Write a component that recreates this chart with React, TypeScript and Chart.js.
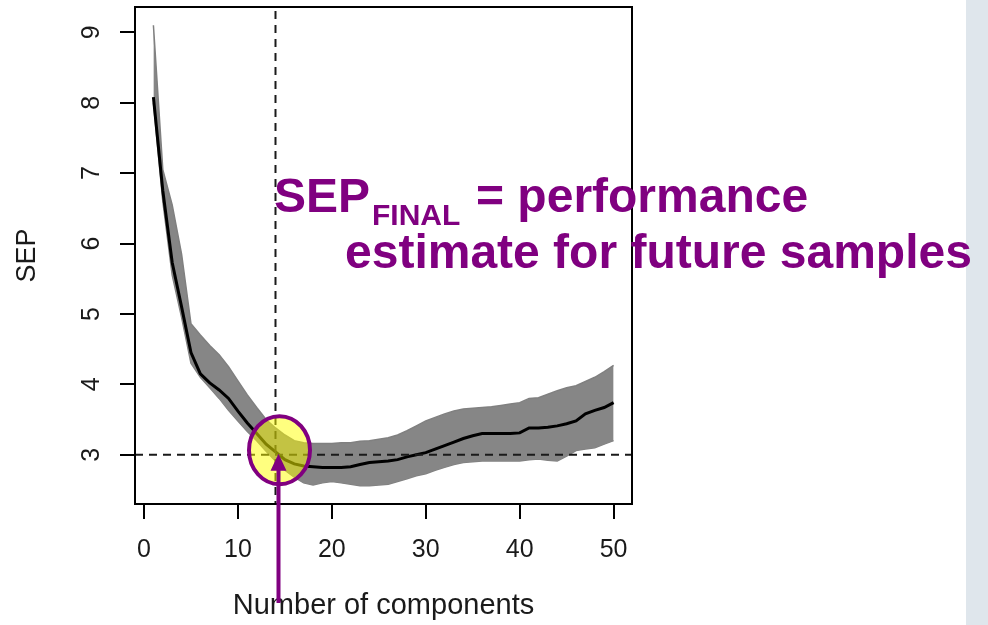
import React, { useEffect, useRef } from "react";
import { Chart, registerables } from "chart.js";

Chart.register(...registerables);

// ---- data ----
const COMPONENTS = [
  1, 2, 3, 4, 5, 6, 7, 8, 9, 10, 11, 12, 13, 14, 15, 16, 17, 18, 19, 20, 21, 22, 23, 24, 25,
  26, 27, 28, 29, 30, 31, 32, 33, 34, 35, 36, 37, 38, 39, 40, 41, 42, 43, 44, 45, 46, 47, 48, 49, 50,
];
// mean SEP curve (black)
const SEP_MEAN = [
  8.08, 6.75, 5.73, 5.1, 4.45, 4.15, 4.02, 3.92, 3.8, 3.62, 3.45, 3.3, 3.15, 3.04, 2.93, 2.87, 2.84, 2.83, 2.82, 2.82,
  2.82, 2.83, 2.86, 2.89, 2.9, 2.91, 2.93, 2.97, 3.0, 3.03, 3.08, 3.13, 3.18, 3.23, 3.27, 3.3, 3.3, 3.3, 3.3, 3.31,
  3.38, 3.38, 3.39, 3.41, 3.44, 3.48, 3.58, 3.63, 3.67, 3.74,
];
// envelope of the repeated runs (gray)
const SEP_UPPER = [
  9.1, 7.05, 6.55, 5.85, 4.86, 4.7, 4.55, 4.42, 4.25, 4.05, 3.85, 3.67, 3.5, 3.38, 3.28, 3.2, 3.17, 3.16, 3.16, 3.16,
  3.17, 3.17, 3.19, 3.2, 3.22, 3.24, 3.28, 3.34, 3.41, 3.48, 3.53, 3.58, 3.62, 3.65, 3.66, 3.67, 3.68, 3.7, 3.72, 3.74,
  3.8, 3.81, 3.86, 3.91, 3.95, 3.98, 4.04, 4.1, 4.18, 4.27,
];
const SEP_LOWER = [
  8.0, 6.6, 5.55, 4.95, 4.3, 4.1, 3.95, 3.8, 3.63, 3.48, 3.33, 3.2, 3.05, 2.91, 2.78, 2.68, 2.6, 2.57, 2.6, 2.62,
  2.6, 2.58, 2.56, 2.56, 2.57, 2.58, 2.62, 2.66, 2.7, 2.73, 2.78, 2.82, 2.86, 2.89, 2.9, 2.91, 2.91, 2.91, 2.91, 2.91,
  2.93, 2.94, 2.92, 2.91, 2.98, 3.06, 3.08, 3.1, 3.15, 3.2,
];
const X_TICKS = [0, 10, 20, 30, 40, 50];
const Y_TICKS = [3, 4, 5, 6, 7, 8, 9];
const X_RANGE = [-0.96, 51.96];
const Y_RANGE = [2.3, 9.36];
const SELECTED_K = 14;
const SEP_FINAL = 3.0;
const X_TITLE = "Number of components";
const Y_TITLE = "SEP";
const NOTE_MAIN = "SEP";
const NOTE_SUB = "FINAL";
const NOTE_LINE1 = "= performance";
const NOTE_LINE2 = "estimate for future samples";

const PURPLE = "#800080";
const FONT = "'Liberation Sans', Arial, Helvetica, sans-serif";

const pts = (ys: number[]) => COMPONENTS.map((x, i) => ({ x, y: ys[i] }));

const annotPlugin = {
  id: "annot",
  afterDatasetsDraw(chart: any) {
    const { ctx, chartArea, scales } = chart;
    const px = scales.x.getPixelForValue(SELECTED_K);
    const py = scales.y.getPixelForValue(SEP_FINAL);
    ctx.save();
    ctx.strokeStyle = "#1a1a1a";
    ctx.lineWidth = 2;
    ctx.setLineDash([8, 6]);
    ctx.beginPath();
    ctx.moveTo(px, chartArea.top + 4);
    ctx.lineTo(px, chartArea.bottom);
    ctx.moveTo(chartArea.left, py);
    ctx.lineTo(chartArea.right, py);
    ctx.stroke();
    ctx.restore();
  },
  afterDraw(chart: any) {
    const { ctx, chartArea, scales } = chart;
    const px = scales.x.getPixelForValue(SELECTED_K);
    const py = scales.y.getPixelForValue(SEP_FINAL);
    ctx.save();
    // box
    ctx.strokeStyle = "#000";
    ctx.lineWidth = 2;
    ctx.setLineDash([]);
    ctx.strokeRect(chartArea.left, chartArea.top, chartArea.right - chartArea.left, chartArea.bottom - chartArea.top);

    // highlight ellipse
    ctx.beginPath();
    ctx.ellipse(px + 4, py - 4.5, 30.5, 34, 0, 0, Math.PI * 2);
    ctx.fillStyle = "rgba(255,255,0,0.5)";
    ctx.fill();
    ctx.lineWidth = 4;
    ctx.strokeStyle = PURPLE;
    ctx.stroke();

    // arrow
    const ax = px + 3;
    ctx.beginPath();
    ctx.moveTo(ax, 603);
    ctx.lineTo(ax, py + 12);
    ctx.lineWidth = 4;
    ctx.stroke();
    ctx.beginPath();
    ctx.moveTo(ax, py - 1);
    ctx.lineTo(ax - 8, py + 16);
    ctx.lineTo(ax + 8, py + 16);
    ctx.closePath();
    ctx.fillStyle = PURPLE;
    ctx.fill();

    // note text
    ctx.fillStyle = PURPLE;
    ctx.textBaseline = "alphabetic";
    ctx.textAlign = "left";
    ctx.font = `bold 48px ${FONT}`;
    ctx.fillText(NOTE_MAIN, 274, 212);
    const w = ctx.measureText(NOTE_MAIN).width;
    ctx.font = `bold 30px ${FONT}`;
    ctx.fillText(NOTE_SUB, 274 + w + 2, 225);
    ctx.font = `bold 48px ${FONT}`;
    ctx.fillText(NOTE_LINE1, 476, 212);
    ctx.fillText(NOTE_LINE2, 345, 268);
    ctx.restore();
  },
};

export default function App() {
  const ref = useRef<HTMLCanvasElement | null>(null);
  useEffect(() => {
    if (!ref.current) return;
    const tickFont = { family: FONT, size: 25 };
    const chart = new Chart(ref.current, {
      type: "line",
      data: {
        datasets: [
          {
            data: pts(SEP_MEAN),
            borderColor: "#000",
            borderWidth: 3,
            pointRadius: 0,
            fill: false,
            tension: 0,
          },
          {
            data: pts(SEP_UPPER),
            borderColor: "#808080",
            borderWidth: 1.5,
            backgroundColor: "#868686",
            pointRadius: 0,
            fill: "+1",
            tension: 0,
          },
          {
            data: pts(SEP_LOWER),
            borderColor: "#808080",
            borderWidth: 1.5,
            pointRadius: 0,
            fill: false,
            tension: 0,
          },
        ],
      },
      options: {
        animation: false,
        responsive: true,
        maintainAspectRatio: false,
        layout: { padding: { top: 7, right: 356, left: 0, bottom: 0 } },
        plugins: { legend: { display: false }, tooltip: { enabled: false } },
        scales: {
          x: {
            type: "linear",
            min: X_RANGE[0],
            max: X_RANGE[1],
            afterBuildTicks: (s: any) => {
              s.ticks = X_TICKS.map((v) => ({ value: v }));
            },
            afterFit: (s: any) => {
              s.height = 121;
              s.paddingLeft = 0;
              s.paddingRight = 0;
            },
            border: { display: false },
            grid: {
              drawOnChartArea: false,
              drawTicks: true,
              tickLength: 15,
              color: "#000",
              lineWidth: 2,
            },
            ticks: { font: tickFont, color: "#1a1a1a", padding: 16, maxRotation: 0, minRotation: 0 },
            title: {
              display: true,
              text: X_TITLE,
              font: { family: FONT, size: 29 },
              color: "#1a1a1a",
              padding: { top: 0, bottom: 2 },
            },
          },
          y: {
            type: "linear",
            min: Y_RANGE[0],
            max: Y_RANGE[1],
            afterBuildTicks: (s: any) => {
              s.ticks = Y_TICKS.map((v) => ({ value: v }));
            },
            afterFit: (s: any) => {
              s.width = 135;
              s.paddingTop = 0;
              s.paddingBottom = 0;
            },
            border: { display: false },
            grid: {
              drawOnChartArea: false,
              drawTicks: true,
              tickLength: 15,
              color: "#000",
              lineWidth: 2,
            },
            ticks: {
              font: tickFont,
              color: "#1a1a1a",
              padding: 21,
              minRotation: 90,
              maxRotation: 90,
              crossAlign: "center",
            },
            title: {
              display: true,
              text: Y_TITLE,
              font: { family: FONT, size: 27 },
              color: "#1a1a1a",
              padding: { top: 11, bottom: 0 },
            },
          },
        },
      },
      plugins: [annotPlugin],
    } as any);
    return () => chart.destroy();
  }, []);

  return (
    <div style={{ position: "absolute", left: 0, top: 0, width: 988, height: 625, background: "#ffffff" }}>
      <div style={{ position: "absolute", left: 966, top: 0, width: 22, height: 625, background: "#dfe6ec" }} />
      <div style={{ position: "absolute", left: 0, top: 0, width: 988, height: 625 }}>
        <canvas ref={ref} />
      </div>
    </div>
  );
}
